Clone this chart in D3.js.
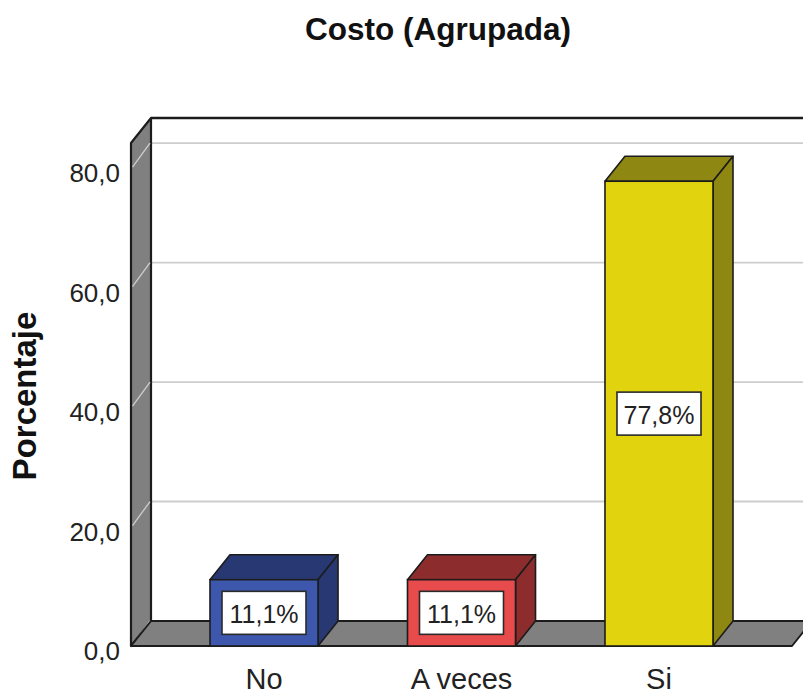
<!DOCTYPE html>
<html>
<head>
<meta charset="utf-8">
<script src="https://cdn.jsdelivr.net/npm/d3@7"></script>
<style>
  html, body { margin: 0; padding: 0; background: #fff; }
  svg { display: block; font-family: "Liberation Sans", Arial, sans-serif; }
</style>
</head>
<body>
<svg id="chart" width="803" height="695"></svg>
<script>
// ---- data ----
const categories = ["No", "A veces", "Si"];
const percentages = [11.1, 11.1, 77.8];
const yTicks = [0, 20, 40, 60, 80];
const title = "Costo (Agrupada)";
const yTitle = "Porcentaje";

// ---- styles ----
const frontColors = ["#3c57ab", "#e84b4b", "#e1d40f"];
const sideColors = ["#283872", "#8c2c2c", "#8e8712"];
const wallFill = "#808080";
const edge = "#1c1c1c";
const gridColor = "#cdcdcd";

const svg = d3.select("#chart");
const W = 803, H = 695;
const DX = 20, DY = -25; // depth offset

const locale = d3.formatLocale({ decimal: ",", thousands: ".", grouping: [3], currency: ["", ""] });
const fmtTick = locale.format(".1f");
const fmtPct = v => locale.format(".1f")(v) + "%";

const x = d3.scaleBand().domain(categories).range([131, 792]).paddingInner(0.453).paddingOuter(0.4);
const y = d3.scaleLinear().domain([0, 84.2]).range([646, 143]);
const yMax = y.domain()[1];
const xL = x.range()[0], xR = x.range()[1];

const color = d3.scaleOrdinal().domain(categories).range(frontColors);
const side = d3.scaleOrdinal().domain(categories).range(sideColors);

const line = d3.line();

// back wall gridlines
svg.append("g").selectAll("line").data(yTicks.filter(t => t > 0)).join("line")
  .attr("x1", xL + DX).attr("x2", W + 20)
  .attr("y1", d => y(d) + DY).attr("y2", d => y(d) + DY)
  .attr("stroke", gridColor).attr("stroke-width", 1.8);

// left wall
svg.append("path")
  .attr("d", line([[xL, y(0)], [xL, y(yMax)], [xL + DX, y(yMax) + DY], [xL + DX, y(0) + DY]]) + "Z")
  .attr("fill", wallFill).attr("stroke", edge).attr("stroke-width", 2.2).attr("stroke-linejoin", "round");

// side wall gridlines
svg.append("g").selectAll("line").data(yTicks).join("line")
  .attr("x1", xL + DX - 1).attr("x2", xL + 1.5)
  .attr("y1", d => y(d) + DY).attr("y2", d => y(d) - 1)
  .attr("stroke", gridColor).attr("stroke-width", 1.3);

// back wall top edge
svg.append("line")
  .attr("x1", xL + DX).attr("x2", W + 20)
  .attr("y1", y(yMax) + DY).attr("y2", y(yMax) + DY)
  .attr("stroke", edge).attr("stroke-width", 2.6);

// floor
svg.append("path")
  .attr("d", line([[xL, y(0)], [xL + DX, y(0) + DY], [xR + DX, y(0) + DY], [xR, y(0)]]) + "Z")
  .attr("fill", wallFill).attr("stroke", edge).attr("stroke-width", 2).attr("stroke-linejoin", "round");

// bars
const bars = svg.append("g").selectAll("g").data(categories).join("g");
bars.each(function (c, i) {
  const g = d3.select(this);
  const x0 = x(c), x1 = x(c) + x.bandwidth();
  const y0 = y(0), y1 = y(percentages[i]);
  // top
  g.append("path")
    .attr("d", line([[x0, y1], [x0 + DX, y1 + DY], [x1 + DX, y1 + DY], [x1, y1]]) + "Z")
    .attr("fill", side(c)).attr("stroke", edge).attr("stroke-width", 1.6).attr("stroke-linejoin", "round");
  // right side
  g.append("path")
    .attr("d", line([[x1, y1], [x1 + DX, y1 + DY], [x1 + DX, y0 + DY], [x1, y0]]) + "Z")
    .attr("fill", side(c)).attr("stroke", edge).attr("stroke-width", 1.6).attr("stroke-linejoin", "round");
  // front
  g.append("rect")
    .attr("x", x0).attr("y", y1).attr("width", x1 - x0).attr("height", y0 - y1)
    .attr("fill", color(c)).attr("stroke", edge).attr("stroke-width", 1.6);
  // label box
  const cx = (x0 + x1) / 2, cy = (y0 + y1) / 2;
  const bw = 84, bh = 43;
  g.append("rect")
    .attr("x", cx - bw / 2).attr("y", cy - bh / 2).attr("width", bw).attr("height", bh)
    .attr("fill", "#fff").attr("stroke", "#2a2a2a").attr("stroke-width", 1.6);
  g.append("text")
    .attr("x", cx).attr("y", cy + 1)
    .attr("text-anchor", "middle").attr("dominant-baseline", "central")
    .attr("font-size", 25).attr("fill", "#222")
    .text(fmtPct(percentages[i]));
});

// y tick labels
svg.append("g").selectAll("text").data(yTicks).join("text")
  .attr("x", xL - 11).attr("y", d => y(d) + 5)
  .attr("text-anchor", "end").attr("dominant-baseline", "central")
  .attr("font-size", 26).attr("fill", "#222")
  .text(d => fmtTick(d));

// x labels
svg.append("g").selectAll("text").data(categories).join("text")
  .attr("x", d => x(d) + x.bandwidth() / 2).attr("y", 689)
  .attr("text-anchor", "middle")
  .attr("font-size", 29).attr("fill", "#222")
  .text(d => d);

// title
svg.append("text")
  .attr("x", 438).attr("y", 40)
  .attr("text-anchor", "middle").attr("font-weight", "bold")
  .attr("font-size", 31.5).attr("fill", "#111")
  .text(title);

// y axis title
svg.append("text")
  .attr("transform", "translate(36,396) rotate(-90)")
  .attr("text-anchor", "middle").attr("font-weight", "bold")
  .attr("font-size", 33).attr("fill", "#111")
  .text(yTitle);
</script>
</body>
</html>
